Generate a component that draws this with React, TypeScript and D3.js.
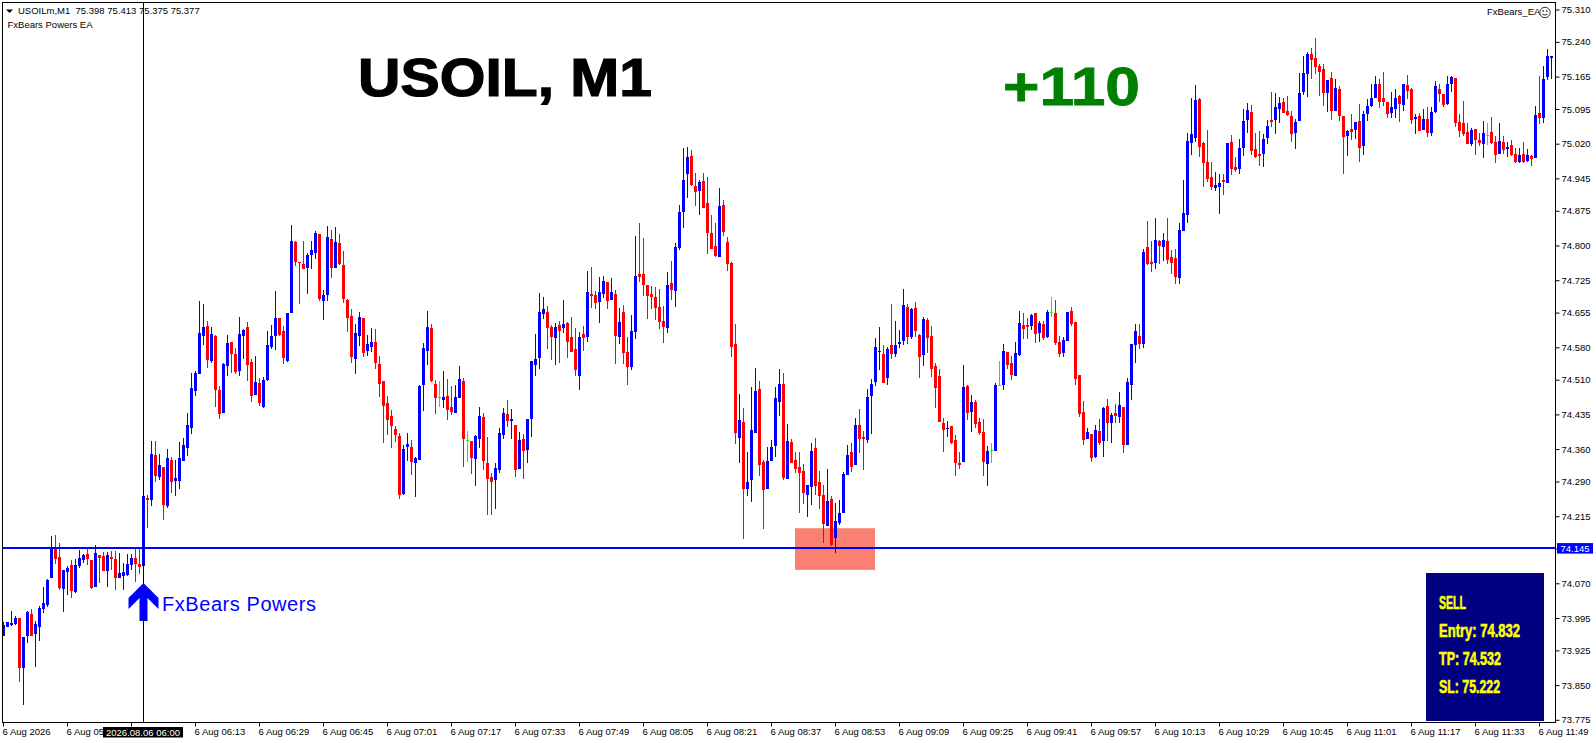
// App.tsx - USOIL M1 candlestick chart
import React, { useEffect, useRef } from 'react';
import * as d3 from 'd3';

const WIDTH = 1596;
const HEIGHT = 743;
const FONT = '"Liberation Sans", Arial, sans-serif';
const LABEL_SIZE = '9.5px';

const opens = [
  73.957,73.976,73.979,73.981,73.994,73.888,73.957,74.004,73.961,73.975,
  74.014,74.024,74.082,74.147,74.127,74.058,74.095,74.110,74.051,74.108,
  74.121,74.134,74.121,74.063,74.132,74.130,74.097,74.127,74.123,74.082,
  74.086,74.088,74.110,74.125,74.112,74.108,74.255,74.249,74.348,74.300,
  74.322,74.238,74.337,74.292,74.292,74.335,74.363,74.406,74.486,74.523,
  74.605,74.626,74.551,74.605,74.488,74.438,74.540,74.592,74.566,74.529,
  74.605,74.624,74.549,74.477,74.503,74.451,74.510,74.581,74.605,74.644,
  74.616,74.551,74.654,74.808,74.765,74.760,74.752,74.780,74.784,74.825,
  74.680,74.693,74.814,74.752,74.806,74.758,74.683,74.648,74.555,74.605,
  74.644,74.572,74.581,74.592,74.544,74.508,74.460,74.432,74.404,74.389,
  74.264,74.365,74.365,74.330,74.337,74.499,74.572,74.622,74.501,74.472,
  74.466,74.475,74.451,74.438,74.471,74.508,74.380,74.378,74.339,74.382,
  74.430,74.330,74.300,74.294,74.315,74.391,74.436,74.421,74.413,74.317,
  74.382,74.359,74.426,74.542,74.557,74.652,74.657,74.624,74.600,74.629,
  74.622,74.633,74.603,74.577,74.518,74.609,74.603,74.695,74.693,74.678,
  74.695,74.721,74.683,74.695,74.603,74.657,74.570,74.538,74.613,74.739,
  74.739,74.715,74.695,74.689,74.667,74.637,74.622,74.719,74.702,74.795,
  74.873,74.955,74.994,74.929,74.918,74.940,74.892,74.827,74.799,74.775,
  74.888,74.808,74.762,74.587,74.384,74.419,74.274,74.294,74.395,74.490,
  74.333,74.274,74.335,74.367,74.462,74.501,74.296,74.376,74.337,74.322,
  74.313,74.261,74.279,74.363,74.289,74.261,74.194,74.253,74.168,74.201,
  74.222,74.305,74.354,74.326,74.413,74.387,74.380,74.475,74.505,74.570,
  74.566,74.514,74.585,74.566,74.587,74.594,74.667,74.603,74.665,74.607,
  74.564,74.639,74.605,74.540,74.518,74.417,74.404,74.410,74.380,74.330,
  74.333,74.497,74.441,74.462,74.419,74.397,74.328,74.357,74.356,74.499,
  74.499,74.570,74.546,74.518,74.564,74.628,74.628,74.626,74.654,74.611,
  74.631,74.603,74.656,74.654,74.592,74.568,74.594,74.659,74.635,74.520,
  74.441,74.382,74.393,74.343,74.400,74.378,74.454,74.417,74.438,74.430,
  74.451,74.369,74.499,74.585,74.605,74.587,74.797,74.765,74.762,74.810,
  74.797,74.810,74.775,74.773,74.730,74.832,74.866,75.022,75.032,75.117,
  75.022,74.981,74.948,74.924,74.927,74.942,74.935,75.024,74.970,74.965,
  75.011,75.071,75.089,75.009,74.998,74.998,75.032,75.071,75.071,75.095,
  75.110,75.091,75.080,75.043,75.069,75.132,75.171,75.214,75.205,75.188,
  75.182,75.130,75.162,75.091,75.138,75.080,75.037,75.052,75.050,75.069,
  75.015,75.084,75.102,75.119,75.149,75.119,75.110,75.086,75.095,75.123,
  75.104,75.147,75.138,75.074,75.080,75.050,75.074,75.043,75.089,75.138,
  75.128,75.106,75.149,75.162,75.067,75.065,75.045,75.020,75.052,75.028,
  75.020,75.039,75.045,75.024,74.998,75.024,75.009,75.017,74.998,74.981,
  74.998,74.983,74.994,74.989,75.086,75.076,75.164,75.205,
];

const highs = [
  73.986,73.986,74.011,74.000,73.994,73.955,74.011,74.015,73.989,74.020,
  74.062,74.080,74.173,74.175,74.156,74.099,74.107,74.121,74.123,74.143,
  74.134,74.145,74.121,74.153,74.132,74.138,74.138,74.140,74.140,74.136,
  74.114,74.134,74.134,74.147,74.147,74.259,74.261,74.378,74.378,74.350,
  74.322,74.361,74.343,74.337,74.376,74.384,74.438,74.525,74.529,74.680,
  74.674,74.637,74.624,74.607,74.497,74.546,74.607,74.592,74.579,74.646,
  74.620,74.635,74.555,74.562,74.514,74.516,74.616,74.629,74.702,74.644,
  74.626,74.654,74.844,74.810,74.765,74.810,74.784,74.810,74.832,74.825,
  74.704,74.842,74.834,74.840,74.825,74.788,74.685,74.663,74.631,74.657,
  74.644,74.607,74.622,74.620,74.562,74.508,74.475,74.445,74.410,74.395,
  74.369,74.395,74.380,74.343,74.499,74.590,74.659,74.631,74.510,74.508,
  74.529,74.512,74.497,74.499,74.540,74.514,74.400,74.378,74.391,74.451,
  74.438,74.387,74.309,74.330,74.406,74.449,74.466,74.447,74.413,74.397,
  74.393,74.426,74.551,74.609,74.698,74.689,74.670,74.629,74.633,74.637,
  74.683,74.635,74.646,74.622,74.613,74.626,74.745,74.754,74.702,74.732,
  74.734,74.721,74.730,74.704,74.665,74.672,74.603,74.650,74.821,74.849,
  74.816,74.715,74.713,74.711,74.706,74.670,74.743,74.767,74.806,74.888,
  75.011,75.013,75.007,74.957,74.942,74.957,74.948,74.866,74.849,74.924,
  74.899,74.819,74.765,74.631,74.480,74.449,74.354,74.495,74.536,74.508,
  74.337,74.365,74.380,74.495,74.534,74.525,74.415,74.382,74.354,74.354,
  74.328,74.283,74.374,74.384,74.313,74.283,74.318,74.259,74.244,74.251,
  74.311,74.369,74.374,74.428,74.447,74.400,74.490,74.512,74.600,74.624,
  74.585,74.581,74.674,74.637,74.618,74.706,74.674,74.665,74.678,74.609,
  74.646,74.644,74.626,74.546,74.533,74.428,74.421,74.410,74.391,74.354,
  74.542,74.499,74.477,74.467,74.428,74.425,74.367,74.374,74.503,74.551,
  74.587,74.570,74.561,74.592,74.659,74.654,74.644,74.652,74.654,74.637,
  74.637,74.661,74.689,74.683,74.605,74.603,74.657,74.667,74.635,74.520,
  74.464,74.406,74.393,74.413,74.425,74.451,74.469,74.438,74.458,74.484,
  74.451,74.514,74.587,74.631,74.631,74.793,74.853,74.810,74.860,74.812,
  74.827,74.860,74.790,74.793,74.849,74.942,75.043,75.119,75.147,75.119,
  75.024,75.050,74.981,74.959,74.955,74.955,75.022,75.039,74.991,75.030,
  75.095,75.108,75.104,75.043,75.048,75.041,75.071,75.132,75.130,75.121,
  75.119,75.123,75.091,75.073,75.173,75.210,75.218,75.227,75.248,75.192,
  75.192,75.158,75.175,75.160,75.145,75.080,75.050,75.084,75.067,75.106,
  75.091,75.117,75.149,75.166,75.160,75.175,75.110,75.132,75.138,75.125,
  75.149,75.169,75.140,75.084,75.086,75.095,75.099,75.099,75.156,75.149,
  75.128,75.166,75.166,75.162,75.084,75.112,75.065,75.054,75.052,75.043,
  75.069,75.065,75.078,75.037,75.065,75.037,75.024,75.028,75.011,75.011,
  75.024,75.009,74.996,75.102,75.166,75.188,75.225,75.210,
];

const lows = [
  73.957,73.976,73.977,73.979,73.856,73.808,73.940,73.957,73.890,73.946,
  74.006,74.019,74.082,74.112,74.056,74.007,74.045,74.039,74.049,74.103,
  74.114,74.110,74.058,74.063,74.070,74.097,74.063,74.099,74.056,74.082,
  74.056,74.086,74.099,74.073,74.091,74.108,74.190,74.236,74.288,74.294,
  74.207,74.233,74.266,74.259,74.274,74.335,74.346,74.393,74.475,74.523,
  74.585,74.536,74.546,74.451,74.426,74.438,74.518,74.525,74.523,74.518,
  74.555,74.508,74.462,74.477,74.454,74.449,74.508,74.577,74.575,74.605,
  74.544,74.549,74.654,74.756,74.674,74.750,74.695,74.750,74.771,74.680,
  74.639,74.680,74.730,74.752,74.758,74.676,74.613,74.546,74.523,74.583,
  74.559,74.562,74.570,74.533,74.473,74.374,74.391,74.363,74.376,74.253,
  74.261,74.335,74.305,74.257,74.337,74.443,74.542,74.505,74.436,74.451,
  74.449,74.423,74.434,74.438,74.471,74.322,74.333,74.307,74.281,74.363,
  74.315,74.218,74.218,74.231,74.309,74.382,74.408,74.382,74.300,74.317,
  74.296,74.330,74.387,74.518,74.533,74.642,74.577,74.553,74.542,74.546,
  74.611,74.557,74.570,74.518,74.488,74.572,74.592,74.665,74.663,74.633,
  74.687,74.663,74.683,74.544,74.587,74.544,74.499,74.531,74.598,74.721,
  74.691,74.642,74.663,74.639,74.620,74.590,74.611,74.683,74.667,74.790,
  74.838,74.903,74.929,74.886,74.866,74.881,74.782,74.793,74.775,74.775,
  74.821,74.745,74.559,74.372,74.330,74.166,74.259,74.246,74.395,74.302,
  74.188,74.274,74.335,74.343,74.432,74.294,74.296,74.330,74.309,74.222,
  74.242,74.214,74.240,74.261,74.231,74.156,74.194,74.151,74.136,74.197,
  74.222,74.305,74.311,74.326,74.352,74.315,74.374,74.393,74.497,74.531,
  74.503,74.499,74.555,74.559,74.579,74.585,74.587,74.598,74.603,74.514,
  74.540,74.568,74.516,74.449,74.419,74.354,74.387,74.371,74.302,74.318,
  74.333,74.423,74.397,74.406,74.391,74.302,74.281,74.330,74.356,74.497,
  74.488,74.533,74.510,74.518,74.561,74.598,74.598,74.618,74.590,74.592,
  74.596,74.600,74.646,74.585,74.559,74.559,74.594,74.626,74.499,74.430,
  74.369,74.382,74.333,74.341,74.369,74.343,74.378,74.374,74.417,74.417,
  74.352,74.369,74.467,74.546,74.576,74.579,74.758,74.743,74.750,74.760,
  74.767,74.760,74.739,74.717,74.717,74.832,74.849,74.996,75.024,74.991,
  74.927,74.937,74.920,74.918,74.868,74.909,74.935,74.952,74.959,74.955,
  74.993,75.043,74.996,74.989,74.972,74.970,75.020,75.056,75.041,75.065,
  75.086,75.080,75.024,75.009,75.069,75.125,75.121,75.160,75.171,75.123,
  75.102,75.089,75.071,75.091,75.069,74.955,74.994,75.028,75.030,74.981,
  74.996,75.069,75.099,75.119,75.097,75.102,75.076,75.076,75.076,75.067,
  75.091,75.117,75.063,75.041,75.048,75.050,75.035,75.037,75.086,75.110,
  75.099,75.104,75.132,75.056,75.035,75.037,75.020,75.015,74.996,75.015,
  74.989,75.017,75.020,74.978,74.998,74.998,74.991,74.994,74.978,74.978,
  74.978,74.981,74.972,74.989,75.063,75.065,75.158,75.160,
];

const closes = [
  73.979,73.986,73.984,73.996,73.888,73.955,74.007,73.957,73.983,74.017,
  74.028,74.078,74.147,74.123,74.060,74.099,74.104,74.054,74.110,74.125,
  74.132,74.123,74.060,74.136,74.125,74.097,74.132,74.123,74.082,74.093,
  74.095,74.112,74.125,74.112,74.106,74.259,74.251,74.350,74.302,74.326,
  74.240,74.341,74.289,74.298,74.341,74.369,74.413,74.492,74.525,74.611,
  74.624,74.553,74.609,74.488,74.436,74.544,74.590,74.566,74.527,74.609,
  74.618,74.542,74.475,74.505,74.460,74.510,74.585,74.605,74.644,74.607,
  74.557,74.654,74.810,74.765,74.762,74.750,74.780,74.790,74.827,74.685,
  74.693,74.819,74.752,74.808,74.760,74.685,74.644,74.559,74.611,74.646,
  74.568,74.587,74.592,74.546,74.501,74.454,74.423,74.410,74.391,74.261,
  74.361,74.372,74.333,74.341,74.497,74.579,74.624,74.508,74.471,74.472,
  74.473,74.445,74.441,74.473,74.512,74.382,74.380,74.341,74.389,74.432,
  74.335,74.296,74.289,74.320,74.395,74.438,74.421,74.426,74.315,74.380,
  74.356,74.426,74.551,74.555,74.657,74.663,74.622,74.603,74.624,74.616,
  74.631,74.592,74.570,74.531,74.603,74.600,74.700,74.691,74.676,74.700,
  74.723,74.680,74.700,74.605,74.635,74.568,74.538,74.616,74.734,74.732,
  74.715,74.691,74.689,74.665,74.635,74.624,74.715,74.704,74.797,74.873,
  74.942,74.991,74.931,74.916,74.937,74.881,74.827,74.793,74.778,74.886,
  74.829,74.760,74.581,74.395,74.423,74.274,74.289,74.402,74.486,74.326,
  74.272,74.335,74.365,74.471,74.501,74.298,74.378,74.330,74.318,74.309,
  74.266,74.283,74.356,74.281,74.259,74.199,74.248,74.153,74.205,74.222,
  74.307,74.348,74.322,74.413,74.382,74.382,74.473,74.501,74.581,74.572,
  74.503,74.577,74.566,74.585,74.592,74.672,74.603,74.663,74.615,74.559,
  74.641,74.600,74.533,74.492,74.419,74.402,74.406,74.374,74.330,74.326,
  74.495,74.438,74.462,74.415,74.395,74.333,74.356,74.357,74.499,74.499,
  74.572,74.542,74.520,74.568,74.633,74.620,74.624,74.650,74.609,74.633,
  74.600,74.657,74.656,74.590,74.566,74.596,74.657,74.631,74.512,74.436,
  74.380,74.397,74.341,74.402,74.374,74.449,74.417,74.434,74.432,74.456,
  74.369,74.505,74.587,74.616,74.587,74.786,74.760,74.760,74.812,74.799,
  74.812,74.769,74.762,74.732,74.834,74.870,75.026,75.041,75.115,75.013,
  74.978,74.944,74.927,74.931,74.935,74.937,75.022,74.965,74.963,75.011,
  75.069,75.093,75.004,74.991,74.993,75.030,75.058,75.067,75.099,75.108,
  75.086,75.082,75.041,75.067,75.130,75.173,75.214,75.201,75.186,75.175,
  75.130,75.158,75.091,75.140,75.080,75.035,75.048,75.045,75.067,75.011,
  75.084,75.102,75.119,75.149,75.110,75.110,75.084,75.099,75.119,75.106,
  75.149,75.134,75.071,75.078,75.048,75.074,75.043,75.089,75.145,75.128,
  75.104,75.149,75.164,75.065,75.048,75.041,75.020,75.050,75.028,75.022,
  75.043,75.039,75.022,74.996,75.026,75.007,75.013,74.996,74.981,74.996,
  74.981,74.996,74.987,75.082,75.076,75.160,75.210,75.210,
];

const priceTicks = [
  75.31, 75.24, 75.165, 75.095, 75.02, 74.945, 74.875, 74.8, 74.725, 74.655, 74.58,
  74.51, 74.435, 74.36, 74.29, 74.215, 74.145, 74.07, 73.995, 73.925, 73.85, 73.775,
];

const timeLabels = [
  '6 Aug 2026', '6 Aug 05:41', '6 Aug 05:57', '6 Aug 06:13', '6 Aug 06:29', '6 Aug 06:45', '6 Aug 07:01',
  '6 Aug 07:17', '6 Aug 07:33', '6 Aug 07:49', '6 Aug 08:05', '6 Aug 08:21', '6 Aug 08:37', '6 Aug 08:53',
  '6 Aug 09:09', '6 Aug 09:25', '6 Aug 09:41', '6 Aug 09:57', '6 Aug 10:13', '6 Aug 10:29', '6 Aug 10:45',
  '6 Aug 11:01', '6 Aug 11:17', '6 Aug 11:33', '6 Aug 11:49',
];

const signalLines = ['SELL', 'Entry: 74.832', 'TP: 74.532', 'SL: 75.222'];
const signalWidths = [27, 81, 62, 61];

const LEVEL = 74.145;
const SIGNAL_BAR = 35;
const ZONE = { from: 198, to: 218, top: 74.189, bottom: 74.099 };

const App: React.FC = () => {
  const svgRef = useRef<SVGSVGElement>(null);

  useEffect(() => {
    const svg = d3.select(svgRef.current);
    svg.selectAll('*').remove();

    const x = d3.scaleLinear().domain([0, opens.length - 1]).range([3, 1551]);
    const y = d3.scaleLinear().domain([75.31, 73.775]).range([9.5, 719.8]);

    const frame = { left: 2.5, top: 2.5, right: 1555.5, bottom: 722.5 };
    const candles = d3.range(opens.length);

    // Zone behind the candles
    svg.append('rect')
      .attr('x', x(ZONE.from)).attr('width', x(ZONE.to) - x(ZONE.from))
      .attr('y', y(ZONE.top)).attr('height', y(ZONE.bottom) - y(ZONE.top))
      .attr('fill', '#fa8072');

    const color = (i: number) => closes[i] > opens[i] ? '#0000ff' : closes[i] < opens[i] ? '#ff0000' : '#00ff00';

    const g = svg.append('g').attr('shape-rendering', 'crispEdges');
    g.selectAll('.wick').data(candles).enter().append('rect')
      .attr('class', 'wick')
      .attr('x', i => x(i)).attr('width', 1)
      .attr('y', i => y(highs[i]))
      .attr('height', i => y(lows[i]) - y(highs[i]))
      .attr('fill', color);
    g.selectAll('.body').data(candles).enter().append('rect')
      .attr('class', 'body')
      .attr('x', i => x(i) - 1).attr('width', 3)
      .attr('y', i => y(Math.max(opens[i], closes[i])))
      .attr('height', i => Math.max(1, Math.abs(y(opens[i]) - y(closes[i]))))
      .attr('fill', color);

    // Horizontal level
    svg.append('line')
      .attr('x1', frame.left).attr('x2', frame.right)
      .attr('y1', Math.floor(y(LEVEL))).attr('y2', Math.floor(y(LEVEL)))
      .attr('stroke', '#0000ff').attr('stroke-width', 2)
      .attr('shape-rendering', 'crispEdges');

    // Crosshair on the signal bar
    svg.append('line')
      .attr('x1', x(SIGNAL_BAR) + 0.5).attr('x2', x(SIGNAL_BAR) + 0.5)
      .attr('y1', frame.top).attr('y2', frame.bottom)
      .attr('stroke', '#000').attr('stroke-width', 1);

    // Arrow under the signal bar
    const ax = x(SIGNAL_BAR) + 0.5;
    const arrowShape = d3.line();
    svg.append('path')
      .attr('d', arrowShape([
        [ax, 583], [ax + 15, 598], [ax + 15, 609], [ax + 4, 598], [ax + 4, 621],
        [ax - 4, 621], [ax - 4, 598], [ax - 15, 609], [ax - 15, 598],
      ]) + 'Z')
      .attr('fill', '#0000ff');
    svg.append('text')
      .attr('x', 162).attr('y', 610.5)
      .attr('textLength', 154)
      .style('font-family', FONT)
      .style('font-size', '20px')
      .style('fill', '#0000ff')
      .text('FxBears Powers');

    // Frame
    svg.append('rect')
      .attr('x', frame.left).attr('y', frame.top)
      .attr('width', frame.right - frame.left).attr('height', frame.bottom - frame.top)
      .attr('fill', 'none').attr('stroke', '#000');

    // Axes
    const yAxis = d3.axisRight(y).tickValues(priceTicks).tickSize(4).tickPadding(2).tickFormat(d3.format('.3f') as any);
    const yG = svg.append('g').attr('transform', `translate(${frame.right},0)`).call(yAxis);
    const xAxis = d3.axisBottom(x)
      .tickValues(timeLabels.map((_, i) => i * 16))
      .tickSize(4).tickPadding(2)
      .tickFormat((_, i) => timeLabels[i]);
    const xG = svg.append('g').attr('transform', `translate(0,${frame.bottom})`).call(xAxis);
    xG.selectAll('text').style('text-anchor', 'start').attr('dx', -1);
    [yG, xG].forEach(a => {
      a.select('.domain').remove();
      a.selectAll('text').style('font-family', FONT).style('font-size', LABEL_SIZE).style('fill', '#000');
    });

    // Price tag and time tag
    const tag = (bx: number, by: number, bw: number, bh: number, bg: string, label: string) => {
      svg.append('rect').attr('x', bx).attr('y', by).attr('width', bw).attr('height', bh).attr('fill', bg);
      svg.append('text')
        .attr('x', bx + bw / 2).attr('y', by + bh / 2).attr('dy', '.36em')
        .attr('text-anchor', 'middle')
        .style('font-family', FONT).style('font-size', LABEL_SIZE).style('fill', '#fff')
        .text(label);
    };
    tag(1557, y(LEVEL) - 5.5, 36, 10.5, '#0000ff', '74.145');
    tag(103, 727, 80, 10.5, '#000', '2026.08.06 06:00');

    // Top left labels
    svg.append('path').attr('d', 'M6,9.5H13L9.5,13Z').attr('fill', '#000');
    svg.append('text').attr('x', 18).attr('y', 14)
      .style('font-family', FONT).style('font-size', LABEL_SIZE).style('fill', '#000')
      .style('white-space', 'pre')
      .text('USOILm,M1  75.398 75.413 75.375 75.377');
    svg.append('text').attr('x', 7.5).attr('y', 27.5)
      .style('font-family', FONT).style('font-size', LABEL_SIZE).style('fill', '#000')
      .text('FxBears Powers EA');

    // Expert name and face, top right
    svg.append('text').attr('x', 1487).attr('y', 15)
      .style('font-family', FONT).style('font-size', LABEL_SIZE).style('fill', '#000')
      .text('FxBears_EA');
    const face = svg.append('g').attr('transform', 'translate(1545,12.5)').attr('fill', 'none').attr('stroke', '#333');
    face.append('circle').attr('r', 5.2);
    face.append('circle').attr('cx', -1.8).attr('cy', -1.5).attr('r', 0.5);
    face.append('circle').attr('cx', 1.8).attr('cy', -1.5).attr('r', 0.5);
    face.append('path').attr('d', 'M-2.5,1.5Q0,3.8,2.5,1.5');

    // Big headings
    svg.append('text').attr('x', 358).attr('y', 96)
      .attr('textLength', 294).attr('lengthAdjust', 'spacingAndGlyphs')
      .style('font-family', FONT)
      .style('font-size', '53px').style('font-weight', 'bold').style('fill', '#000')
      .style('stroke', '#000').style('stroke-width', 1.2)
      .text('USOIL, M1');
    svg.append('text').attr('x', 1003).attr('y', 105)
      .attr('textLength', 137).attr('lengthAdjust', 'spacingAndGlyphs')
      .style('font-family', FONT)
      .style('font-size', '54px').style('font-weight', 'bold').style('fill', '#008000')
      .style('stroke', '#008000').style('stroke-width', 0.8)
      .text('+110');

    // Signal panel
    svg.append('rect')
      .attr('x', 1426).attr('y', 573).attr('width', 118).attr('height', 148)
      .attr('fill', '#000080');
    svg.selectAll('.signal').data(signalLines).enter().append('text')
      .attr('class', 'signal')
      .attr('x', 1439)
      .attr('y', (_, i) => 608.5 + i * 28)
      .attr('textLength', (_, i) => signalWidths[i])
      .attr('lengthAdjust', 'spacingAndGlyphs')
      .style('font-family', '"Liberation Sans Narrow", "Liberation Sans", sans-serif')
      .style('font-size', '18px').style('font-weight', 'bold')
      .style('fill', '#ffff00').style('stroke', '#ffff00').style('stroke-width', 0.6)
      .text(d => d);
  }, []);

  return (
    <svg
      ref={svgRef}
      width={WIDTH}
      height={HEIGHT}
      style={{ position: 'absolute', left: 0, top: 0, background: '#fff' }}
    />
  );
};

export default App;
